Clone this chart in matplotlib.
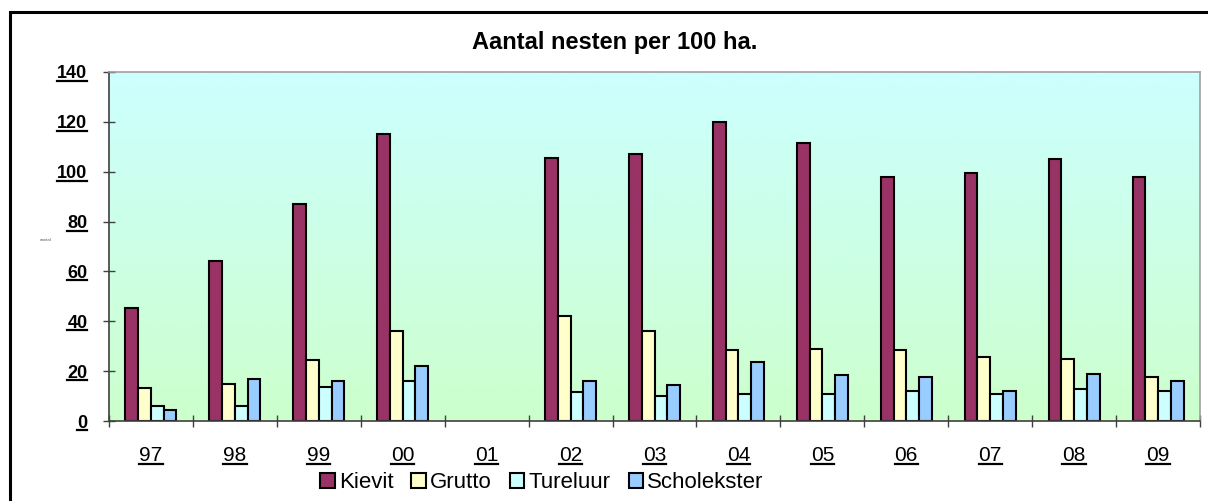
import numpy as np
import matplotlib
matplotlib.use("Agg")
import matplotlib.pyplot as plt
from matplotlib.patches import Patch, Rectangle
from matplotlib.lines import Line2D
from matplotlib.colors import LinearSegmentedColormap

plt.rcParams['font.family'] = ['Liberation Sans', 'DejaVu Sans']

years = ['97', '98', '99', '00', '01', '02', '03', '04', '05', '06', '07', '08', '09']
kievit = [45.5, 64, 87, 115, np.nan, 105.5, 107, 120, 111.5, 98, 99.5, 105, 98]
grutto = [13.2, 14.7, 24.5, 36, np.nan, 42, 36, 28.5, 29, 28.5, 25.5, 25, 17.5]
tureluur = [6, 6, 13.8, 16, np.nan, 11.5, 10, 11, 11, 12, 11, 13, 12]
scholekster = [4.3, 16.7, 16, 22, np.nan, 16, 14.5, 23.5, 18.5, 17.5, 12, 19, 16]
series_names = ['Kievit', 'Grutto', 'Tureluur', 'Scholekster']
series_colors = ['#993366', '#FFFFCC', '#CCFFFF', '#99CCFF']
yticks = [0, 20, 40, 60, 80, 100, 120, 140]

W, H = 1208, 501
fig = plt.figure(figsize=(W / 100, H / 100), dpi=100)

# outer border
fig.add_artist(Rectangle((9.5 / W, -0.1), 1.2, 1 - 11.5 / H + 0.1, transform=fig.transFigure,
                         fill=False, edgecolor='black', linewidth=2.2))

ax = fig.add_axes([109 / W, (H - 421) / H, (1200 - 109) / W, (421 - 72) / H])

# gradient background
cmap = LinearSegmentedColormap.from_list('bg', ['#CCFFCC', '#CCFFFF'])
grad = np.linspace(0, 1, 256).reshape(-1, 1)
ax.imshow(grad, cmap=cmap, aspect='auto', origin='lower',
          extent=[-0.5, len(years) - 0.5, 0, 140], zorder=0)

x = np.arange(len(years))
w = 0.152
all_series = [kievit, grutto, tureluur, scholekster]
for i, (vals, col) in enumerate(zip(all_series, series_colors)):
    ax.bar(x + (i - 1.5) * w, vals, width=w, color=col, edgecolor='black',
           linewidth=1.5, zorder=2)

ax.set_xlim(-0.5, len(years) - 0.5)
ax.set_ylim(0, 140)

ax.set_yticks(yticks)
ax.set_yticklabels([str(v) for v in yticks], fontsize=13, fontweight='bold')
ax.tick_params(axis='y', direction='inout', length=9, width=1, color='#404040', pad=11)

ax.set_xticks(x)
ax.set_xticklabels(years, fontsize=15)
ax.set_xticks(np.arange(-0.5, len(years)), minor=True)
ax.tick_params(axis='x', which='major', length=0, pad=18)
ax.tick_params(axis='x', which='minor', direction='inout', length=9, width=1, color='#404040')

for s in ['top', 'right']:
    ax.spines[s].set_color('#A0A0A0')
    ax.spines[s].set_linewidth(1.2)
ax.spines['left'].set_color('#404040')
ax.spines['bottom'].set_color('#404040')
ax.spines['left'].set_linewidth(1.2)
ax.spines['bottom'].set_linewidth(1.2)

fig.text(615 / W, 1 - 42 / H, 'Aantal nesten per 100 ha.', ha='center', va='center',
         fontsize=17, fontweight='bold')
fig.text(46 / W, 1 - 240 / H, 'aantal', ha='center', va='center', fontsize=3.2, color='#606060')

handles = [Patch(facecolor=c, edgecolor='black', linewidth=1.5) for c in series_colors]
fig.legend(handles, series_names, loc='center', bbox_to_anchor=(542 / W, 1 - 483 / H),
           ncol=4, frameon=False, fontsize=16, handlelength=0.65, handleheight=0.65,
           handletextpad=0.2, columnspacing=0.8, borderpad=0)

# underline tick labels
fig.canvas.draw()
renderer = fig.canvas.get_renderer()
for lab in ax.get_yticklabels() + ax.get_xticklabels():
    if not lab.get_text():
        continue
    bb = lab.get_window_extent(renderer)
    yline = bb.y0 + 1.5
    fig.add_artist(Line2D([bb.x0 / W, bb.x1 / W], [yline / H, yline / H],
                          transform=fig.transFigure, color='black', linewidth=1.6))

fig.savefig('out.png', dpi=100)
